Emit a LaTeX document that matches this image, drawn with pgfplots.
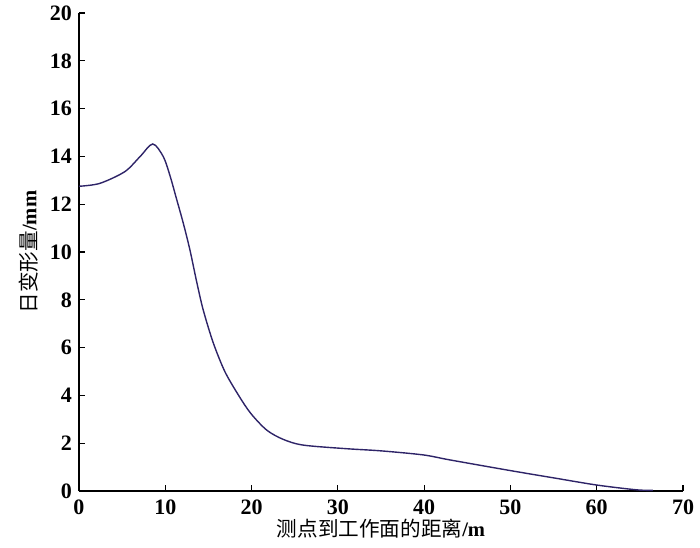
\documentclass[border=0pt]{standalone}
\usepackage{fontspec}
\setmainfont{Liberation Serif}
\newfontfamily\cjk{Noto Sans CJK SC}
\usepackage{pgfplots}
\pgfplotsset{compat=1.18}
\definecolor{curve}{HTML}{2E2468}
\begin{document}
\begin{tikzpicture}
\begin{axis}[name=ax,
  scale only axis, width=302pt, height=239pt,
  xmin=0, xmax=70, ymin=0, ymax=20,
  axis lines=left, axis line style={-, line width=0.8pt},
  xtick={0,10,...,70}, ytick={0,2,...,20},
  tick align=inside, major tick length=3pt,
  tick style={black, line width=0.6pt},
  /pgf/number format/assume math mode=true,
  ticklabel style={font=\fontsize{11}{12}\selectfont\bfseries},
  xticklabel style={yshift=-1pt},
  xlabel={{\cjk 测点到工作面的距离}\textbf{/m}},
  ylabel={{\cjk 日变形量}\textbf{/mm}},
  label style={font=\fontsize{10.3}{12}\selectfont},
  xlabel style={yshift=5pt},
  ylabel style={yshift=-1pt},
  clip=false,
]
\addplot[curve, line width=0.7pt, smooth, tension=0.5] coordinates {
(0,12.75) (2.4,12.87) (5.3,13.36) (7.07,13.99) (8.55,14.52) (9.77,13.99)
(10.54,13.2) (11.32,12.2) (12.09,11.2) (12.86,10.08) (13.64,8.75) (14.4,7.57)
(15.56,6.2) (16.9,5.0) (18.5,4.0) (19.9,3.25) (21.75,2.55) (23.67,2.16)
(26,1.92) (31,1.77) (35,1.68) (39.9,1.51) (43,1.30) (49.9,0.86) (55,0.55)
(60,0.25) (64.6,0.05) (66.5,0.03)
};
\end{axis}
\pgfresetboundingbox
\path (ax.south west) ++(-39.5pt,-28pt) rectangle ++(350pt,273.5pt);
\end{tikzpicture}
\end{document}
